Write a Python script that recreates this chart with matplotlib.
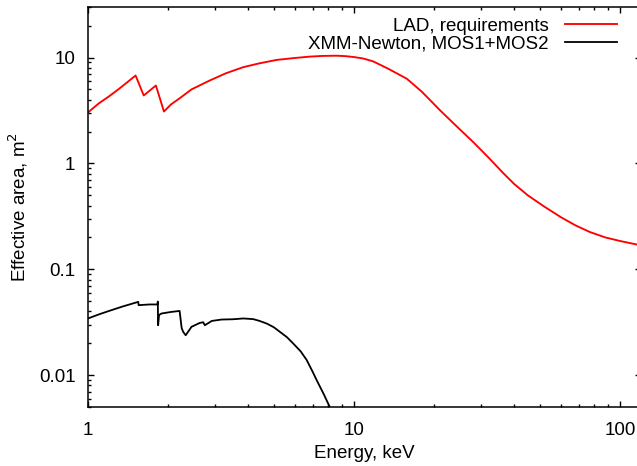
import matplotlib
matplotlib.use("Agg")
import matplotlib.pyplot as plt
from matplotlib.ticker import LogLocator, NullFormatter, FixedLocator, FixedFormatter

plt.rcParams['font.family'] = ['Liberation Sans', 'DejaVu Sans']

# LAD, requirements (energy keV, effective area m^2)
lad_E = [1.0, 1.1, 1.2, 1.3, 1.4, 1.51, 1.62, 1.80, 1.93, 2.05, 2.2, 2.45,
         2.87, 3.3, 3.83, 4.4, 5.13, 6.0, 6.83, 7.6, 8.6, 9.3, 10.0, 10.8,
         11.8, 13.5, 15.8, 18.0, 21.1, 24.5, 28.0, 32.0, 36.4, 40.0, 45.0,
         52.0, 60.0, 68.0, 77.0, 88.0, 100.0, 120.0]
lad_A = [3.03, 3.7, 4.3, 5.0, 5.8, 6.76, 4.38, 5.44, 3.09, 3.6, 4.08, 5.0,
         6.07, 7.1, 8.1, 8.8, 9.5, 9.9, 10.2, 10.35, 10.4, 10.3, 10.1, 9.8,
         9.2, 7.8, 6.3, 4.75, 3.16, 2.2, 1.6, 1.14, 0.81, 0.64, 0.50,
         0.39, 0.31, 0.26, 0.225, 0.20, 0.185, 0.168]

# XMM-Newton, MOS1+MOS2
xmm_E = [1.0, 1.1, 1.2, 1.35, 1.545, 1.55, 1.70, 1.825, 1.83, 1.835, 1.85,
         1.89, 2.05, 2.21, 2.25, 2.28, 2.33, 2.45, 2.63, 2.71, 2.75, 2.92,
         3.18, 3.5, 3.84, 4.18, 4.4, 4.7, 5.0, 5.27, 5.6, 5.91, 6.3, 6.64,
         7.0, 7.24, 7.7, 8.08, 8.6]
xmm_A = [0.0343, 0.0375, 0.0404, 0.0445, 0.0492, 0.0458, 0.0465, 0.0465,
         0.0495, 0.0296, 0.037, 0.0382, 0.0395, 0.0404, 0.0278, 0.0256,
         0.0238, 0.0286, 0.0311, 0.0316, 0.0296, 0.0325, 0.0335, 0.0337,
         0.0343, 0.0338, 0.0326, 0.0307, 0.0283, 0.0256, 0.0228, 0.0199,
         0.0168, 0.0139, 0.0107, 0.00897, 0.0066, 0.0051, 0.0035]

xticks = [1, 10, 100]
xticklabels = ['1', '10', '100']
yticks = [0.01, 0.1, 1, 10]
yticklabels = ['0.01', '0.1', '1', '10']

fs = 13.5
fig = plt.figure(figsize=(6.37, 4.66), dpi=100)
ax = fig.add_axes([88/637, 1-407/466, (641-88)/637, 400/466])

ax.plot(lad_E, lad_A, color='#ff0000', lw=1.35, label='LAD, requirements')
ax.plot(xmm_E, xmm_A, color='black', lw=1.3, label='XMM-Newton, MOS1+MOS2')

ax.set_xscale('log')
ax.set_yscale('log')
ax.set_xlim(1, 120)
ax.set_ylim(0.005, 30)

ax.xaxis.set_major_locator(FixedLocator(xticks))
ax.xaxis.set_major_formatter(FixedFormatter(xticklabels))
ax.yaxis.set_major_locator(FixedLocator(yticks))
ax.yaxis.set_major_formatter(FixedFormatter(yticklabels))
ax.xaxis.set_minor_locator(LogLocator(base=10, subs=range(2, 10)))
ax.yaxis.set_minor_locator(LogLocator(base=10, subs=range(2, 10)))
ax.xaxis.set_minor_formatter(NullFormatter())
ax.yaxis.set_minor_formatter(NullFormatter())

ax.tick_params(which='both', direction='in', top=True, right=True, width=1.0,
               colors='black', labelsize=fs)
ax.tick_params(which='major', length=4.5)
ax.tick_params(which='minor', length=2.3)
ax.tick_params(axis='x', which='major', pad=11)
ax.tick_params(axis='y', which='major', pad=9)
for s in ax.spines.values():
    s.set_linewidth(1.1)

ax.set_xlabel('Energy, keV', fontsize=fs, labelpad=4)
ax.set_ylabel('Effective area, m$^2$', fontsize=fs, labelpad=6.5)

leg = ax.legend(loc='upper right', bbox_to_anchor=(0.9566, 0.974),
                frameon=False, markerfirst=False,
                fontsize=fs, handlelength=2.75, handletextpad=0.9,
                labelspacing=0.07, borderaxespad=0.0, borderpad=0.0)

fig.savefig('out.png', dpi=100)
